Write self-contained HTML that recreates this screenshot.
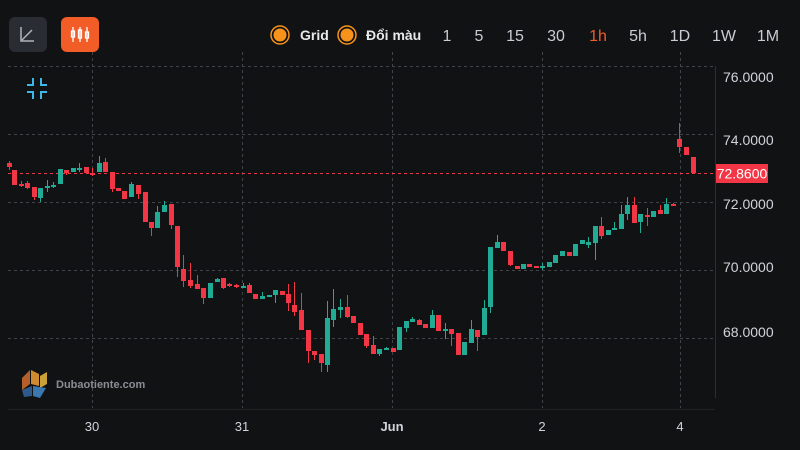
<!DOCTYPE html>
<html><head><meta charset="utf-8"><style>
body{margin:0;background:#111214;width:800px;height:450px;overflow:hidden;font-family:"Liberation Sans",sans-serif}
svg{display:block}
</style></head><body>
<svg id="s" width="800" height="450" xmlns="http://www.w3.org/2000/svg">
<rect width="800" height="450" fill="#111214"/>
<g stroke="#42444a" stroke-dasharray="3,3" stroke-width="1">
<line x1="8" y1="66.5" x2="715" y2="66.5"/>
<line x1="8" y1="134.5" x2="715" y2="134.5"/>
<line x1="8" y1="202.5" x2="715" y2="202.5"/>
<line x1="8" y1="270.5" x2="715" y2="270.5"/>
<line x1="8" y1="338.5" x2="715" y2="338.5"/>
<line x1="92.5" y1="52" x2="92.5" y2="408"/>
<line x1="242.5" y1="52" x2="242.5" y2="408"/>
<line x1="392.5" y1="52" x2="392.5" y2="408"/>
<line x1="542.5" y1="52" x2="542.5" y2="408"/>
<line x1="680.5" y1="52" x2="680.5" y2="408"/>
</g>
<line x1="715.5" y1="66" x2="715.5" y2="398" stroke="#2a2d3a"/>
<line x1="8" y1="409.5" x2="715" y2="409.5" stroke="#222"/>
<line x1="8" y1="173.5" x2="715" y2="173.5" stroke="#f23645" stroke-dasharray="3,3"/>
<g id="c"></g>
<rect x="716" y="164" width="52" height="19" fill="#f23645"/>
<text x="742" y="178.5" fill="#fff" font-size="14" text-anchor="middle">72.8600</text>
<g fill="#d1d4dc" font-size="14">
<text x="723" y="82">76.0000</text>
<text x="723" y="145">74.0000</text>
<text x="723" y="209">72.0000</text>
<text x="723" y="272">70.0000</text>
<text x="723" y="337">68.0000</text>
</g>
<g fill="#d1d4dc" font-size="13" text-anchor="middle">
<text x="92" y="431">30</text><text x="242" y="431">31</text>
<text x="392" y="431" font-weight="bold">Jun</text><text x="542" y="431">2</text><text x="680" y="431">4</text>
</g>
<rect x="9" y="17" width="38" height="35" rx="6" fill="#2a2c33"/>
<path d="M21 27 V41 H34 M22 40 L32 30" stroke="#b0b3bb" stroke-width="1.5" fill="none"/>
<rect x="61" y="17" width="38" height="35" rx="6" fill="#f25c27"/>
<g stroke="#fff" stroke-width="1.3" fill="none">
<line x1="73" y1="27" x2="73" y2="42"/><rect x="71.5" y="31" width="3" height="6"/>
<line x1="80" y1="27" x2="80" y2="42"/><rect x="78.5" y="30" width="3" height="8"/>
<line x1="87" y1="27" x2="87" y2="42"/><rect x="85.5" y="32" width="3" height="6"/>
</g>
<circle cx="280" cy="35" r="9" fill="none" stroke="#f7931a" stroke-width="1.5"/><circle cx="280" cy="35" r="6.5" fill="#f7931a"/>
<text x="300" y="40" fill="#e8e8e8" font-size="14" font-weight="bold">Grid</text>
<circle cx="347" cy="35" r="9" fill="none" stroke="#f7931a" stroke-width="1.5"/><circle cx="347" cy="35" r="6.5" fill="#f7931a"/>
<text x="366" y="40" fill="#e8e8e8" font-size="14" font-weight="bold">Đổi màu</text>
<g fill="#c9ccd3" font-size="16" text-anchor="middle">
<text x="447" y="41">1</text><text x="479" y="41">5</text><text x="515" y="41">15</text><text x="556" y="41">30</text>
<text x="598" y="41" fill="#f25c27">1h</text><text x="638" y="41">5h</text><text x="680" y="41">1D</text>
<text x="724" y="41">1W</text><text x="768" y="41">1M</text>
</g>
<g stroke="#3fb6e8" stroke-width="2" fill="none">
<path d="M27 85 H33 V78"/><path d="M47 85 H41 V78"/><path d="M27 92 H33 V99"/><path d="M47 92 H41 V99"/>
</g>
<g>
<path d="M22 378 L30 370 L30 384 L22 390Z" fill="#b5602a"/>
<path d="M31 370 L39 374 L39 386 L31 384Z" fill="#d08a2f"/>
<path d="M40 376 L47 372 L47 384 L40 388Z" fill="#c9a03a"/>
<path d="M22 390 L32 386 L32 396 L24 397Z" fill="#2d5a8a"/>
<path d="M33 386 L46 388 L40 398 L33 396Z" fill="#3a78b0"/>
</g>
<text x="56" y="388" fill="#8a8d94" font-size="11" font-weight="bold">Dubaotiente.com</text>
</svg>
<script>
var R="#f23645",G="#22ab94";
var d=[
[9,163,167,161,170],[14,170,185,170,185],[21,184,185,181,187],[27,183,188,181,189],[34,187,197,187,200],[40,198,188,188,202],
[47,187,186,180,192],[53,186,185,182,188],[60,184,169,169,184],[66,170,173,170,175],[73,172,168,168,172],[79,169,168,163,172],
[86,167,173,167,173],[92,173,174,168,176],[99,172,163,156,172],[105,162,172,158,172],[112,172,189,172,192],[118,188,191,188,191],
[124,191,199,191,199],[131,197,184,182,197],[138,185,194,185,199],[145,192,222,192,222],[151,222,228,222,236],[157,228,212,206,228],
[164,212,205,201,212],[171,204,225,204,229],[177,226,267,226,277],[183,269,281,255,287],[190,280,286,263,288],[197,284,289,275,289],
[203,288,298,288,304],[210,298,283,283,298],[217,282,279,278,282],[223,278,288,278,289],[229,284,286,283,287],[236,285,287,284,288],
[243,287,286,283,288],[249,285,293,283,293],[255,294,299,294,299],[262,299,296,292,299],[269,297,295,295,297],[275,295,290,290,303],
[282,291,295,291,295],[288,294,303,284,311],[294,305,312,282,316],[301,310,330,293,330],[308,330,351,330,363],[314,351,355,351,360],
[321,354,363,354,372],[327,365,318,301,372],[333,320,309,289,327],[340,310,307,299,318],[347,307,317,295,318],[353,316,323,316,323],
[360,323,335,323,335],[366,334,346,334,348],[373,345,354,336,354],[379,354,349,349,356],[386,350,348,347,350],[393,348,352,348,352],
[399,350,327,327,350],[406,328,321,321,332],[412,322,319,317,322],[419,320,325,319,325],[425,324,328,324,328],[432,328,315,310,328],
[438,315,331,315,331],[445,331,329,323,339],[451,329,334,329,346],[458,333,355,333,355],[464,355,342,342,355],[471,343,329,320,343],
[477,330,337,330,351],[484,335,308,300,335],[490,307,247,247,313],[497,248,242,235,248],[503,242,251,242,251],[510,251,265,251,266],
[517,266,269,266,269],[523,269,264,264,269],[529,264,267,264,267],[536,266,267,266,267],[542,267,266,263,270],[549,267,262,262,267],
[555,263,255,255,263],[562,256,251,251,256],[569,252,256,252,256],[575,256,244,244,256],[582,244,240,240,244],[588,245,242,237,248],
[595,243,226,226,260],[601,226,236,217,239],[608,235,230,230,235],[614,229,228,222,229],[621,229,214,205,229],[627,214,205,197,220],
[634,205,223,197,223],[640,222,214,214,233],[647,215,217,208,226],[653,217,211,211,217],[660,210,214,205,214],[666,214,204,198,214],
[673,204,205,203,206],[679,139,147,123,153],[686,147,155,147,155],[693,157,173,157,173]];
var g=document.getElementById("c"),h="";
d.forEach(function(c){var x=c[0],o=c[1],cl=c[2],col=cl<o?G:R;if(cl==o)col=R;
var t=Math.min(o,cl),b=Math.max(o,cl);if(b-t<2)b=t+2;
h+='<line x1="'+(x+0.5)+'" y1="'+Math.min(c[3],t)+'" x2="'+(x+0.5)+'" y2="'+Math.max(c[4],b)+'" stroke="'+col+'"/>';
h+='<rect x="'+(x-2)+'" y="'+t+'" width="5" height="'+(b-t)+'" fill="'+col+'"/>';});
g.innerHTML=h;
</script>
</body></html>
